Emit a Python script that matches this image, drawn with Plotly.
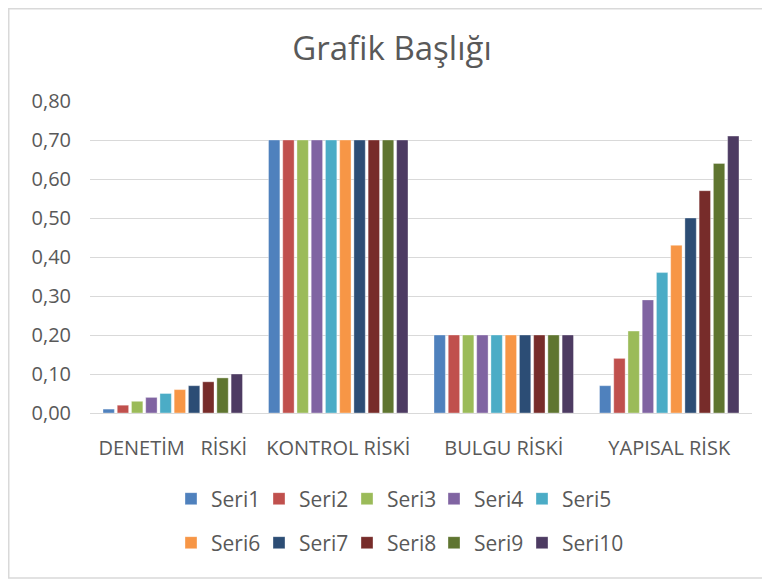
import plotly.graph_objects as go

categories = ["DENETİM\u00a0\u00a0\u00a0RİSKİ", "KONTROL RİSKİ", "BULGU RİSKİ", "YAPISAL RİSK"]
series_names = ["Seri1", "Seri2", "Seri3", "Seri4", "Seri5", "Seri6", "Seri7", "Seri8", "Seri9", "Seri10"]
denetim = [0.01, 0.02, 0.03, 0.04, 0.05, 0.06, 0.07, 0.08, 0.09, 0.10]
kontrol = [0.70] * 10
bulgu = [0.20] * 10
yapisal = [0.07, 0.14, 0.21, 0.29, 0.36, 0.43, 0.50, 0.57, 0.64, 0.71]
colors = ["#4F81BD", "#C0504D", "#9BBB59", "#8064A2", "#4BACC6",
          "#F79646", "#2C4D75", "#772C2A", "#5F7530", "#4D3B62"]

FONT = "Open Sans"
GRAY = "#595959"

# page body has an 8px margin; figure sized to fit the window
W, H = 762, 572
L, R, T, B = 82, 18, 93, 167
pw, ph = W - L - R, H - T - B

def px2x(px):
    return (px - L) / pw

def py2y(py):
    return (H - B - py) / ph

legend_cols_px = [163, 251, 339, 426, 514]
legend_rows_px = [491, 535]

fig = go.Figure()
layout_legends = {}
for i, name in enumerate(series_names):
    key = "legend" if i == 0 else f"legend{i + 1}"
    fig.add_trace(go.Bar(
        x=categories,
        y=[denetim[i], kontrol[i], bulgu[i], yapisal[i]],
        name=name,
        marker=dict(color=colors[i], line=dict(color="rgba(255,255,255,0.35)", width=1)),
        legend=key,
    ))
    layout_legends[key] = dict(
        orientation="h",
        font=dict(family=FONT, size=21, color=GRAY),
        bgcolor="rgba(0,0,0,0)",
        xanchor="left", yanchor="middle",
        itemwidth=30,
        x=px2x(legend_cols_px[i % 5]),
        y=py2y(legend_rows_px[i // 5]),
    )

fig.update_layout(
    width=W, height=H,
    margin=dict(l=L, r=R, t=T, b=B),
    paper_bgcolor="white",
    plot_bgcolor="white",
    separators=",.",
    barmode="group",
    bargap=0.14,
    bargroupgap=0.2,
    font=dict(family=FONT, color=GRAY),
    title=dict(text="Grafik Başlığı", x=384 / W, xanchor="center", xref="container",
               y=1 - 40 / H, yanchor="middle", yref="container",
               font=dict(family=FONT, size=33, color=GRAY)),
    showlegend=True,
    shapes=[dict(type="rect", xref="paper", yref="paper",
                 x0=px2x(0.75), x1=px2x(780), y0=py2y(570), y1=py2y(0.75),
                 line=dict(color="#D9D9D9", width=1.5), fillcolor="rgba(0,0,0,0)", layer="below")],
    **layout_legends,
)

fig.update_yaxes(
    range=[0, 0.8], dtick=0.1, tickformat=".2f",
    showgrid=True, gridcolor="#D9D9D9", gridwidth=1,
    zeroline=False, showline=False,
    tickfont=dict(family=FONT, size=20, color=GRAY),
    ticks="", ticklabelstandoff=18,
)
fig.update_xaxes(
    showline=True, linecolor="#D9D9D9", linewidth=1,
    tickfont=dict(family=FONT, size=20, color=GRAY),
    ticks="", ticklabelstandoff=17,
)

fig.write_html("out.html")
